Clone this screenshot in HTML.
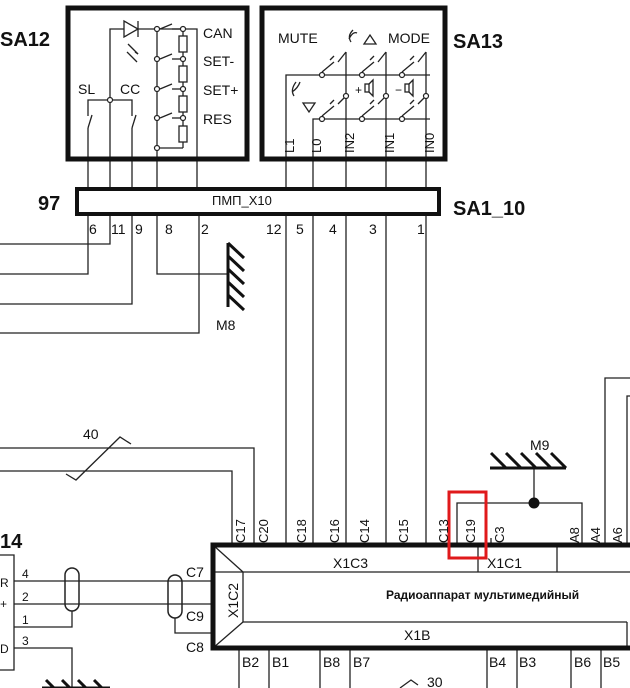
<!DOCTYPE html>
<html><head><meta charset="utf-8"><style>
html,body{margin:0;padding:0;background:#fff;}
svg{display:block;}
text{font-family:"Liberation Sans",sans-serif;fill:#111;}
</style></head><body>
<svg width="630" height="688" viewBox="0 0 630 688" xmlns="http://www.w3.org/2000/svg">
<g stroke="#222" stroke-width="1.3" fill="none">
<polyline points="110,160 110,29 197,29 197,190"/>
<polygon points="124,21 124,37 138,29" fill="#fff"/>
<line x1="138" y1="21" x2="138" y2="37"/>
<line x1="128" y1="44" x2="138" y2="54"/><line x1="135" y1="52" x2="138" y2="54"/>
<line x1="127" y1="52" x2="137" y2="62"/>
<line x1="157" y1="29" x2="157" y2="190"/>
<line x1="183" y1="29" x2="183" y2="148"/>
<polyline points="157,148 183,148"/>
<rect x="179" y="36" width="8" height="16" fill="#fff"/>
<rect x="179" y="66" width="8" height="16" fill="#fff"/>
<rect x="179" y="96" width="8" height="16" fill="#fff"/>
<rect x="179" y="126" width="8" height="16" fill="#fff"/>
<line x1="160" y1="29" x2="172" y2="24"/><line x1="172" y1="29" x2="183" y2="29"/>
<line x1="160" y1="59" x2="172" y2="54"/><line x1="172" y1="59" x2="183" y2="59"/>
<line x1="160" y1="89" x2="172" y2="84"/><line x1="172" y1="89" x2="183" y2="89"/>
<line x1="160" y1="118" x2="172" y2="113"/><line x1="172" y1="118" x2="183" y2="118"/>
<polyline points="88,190 88,128"/><polyline points="88,116 88,100 132,100 132,116"/>
<line x1="88" y1="128" x2="92" y2="115"/>
<line x1="132" y1="190" x2="132" y2="128"/><line x1="132" y1="128" x2="136" y2="115"/>
<line x1="110" y1="160" x2="110" y2="190"/>
<polyline points="286,190 286,75 430,75"/>
<polyline points="313,190 313,119 430,119"/>
<line x1="346" y1="52" x2="346" y2="190"/>
<line x1="386" y1="52" x2="386" y2="190"/>
<line x1="426" y1="52" x2="426" y2="190"/>
<g>
<line x1="322" y1="72" x2="334" y2="62"/><line x1="330" y1="60" x2="334" y2="56"/><line x1="338" y1="62" x2="346" y2="52"/>
<line x1="362" y1="72" x2="374" y2="62"/><line x1="370" y1="60" x2="374" y2="56"/><line x1="378" y1="62" x2="386" y2="52"/>
<line x1="402" y1="72" x2="414" y2="62"/><line x1="410" y1="60" x2="414" y2="56"/><line x1="418" y1="62" x2="426" y2="52"/>
<line x1="322" y1="116" x2="334" y2="106"/><line x1="330" y1="104" x2="334" y2="100"/><line x1="338" y1="104" x2="346" y2="96"/>
<line x1="362" y1="116" x2="374" y2="106"/><line x1="370" y1="104" x2="374" y2="100"/><line x1="378" y1="104" x2="386" y2="96"/>
<line x1="402" y1="116" x2="414" y2="106"/><line x1="410" y1="104" x2="414" y2="100"/><line x1="418" y1="104" x2="426" y2="96"/>
</g>
<rect x="365" y="84" width="4" height="8"/><polyline points="369,84 373,80 373,96 369,92"/>
<rect x="405" y="84" width="4" height="8"/><polyline points="409,84 413,80 413,96 409,92"/>
<polygon points="303,103 315,103 309,112"/>
<polygon points="364,44 376,44 370,35"/>
<path d="M353,30 q-6,6 -2,12 M349,39 q4,-8 8,-6" />
<path d="M296,82 q-6,8 -2,14 M292,92 q6,-4 8,-10"/>
<polyline points="110,215 110,244 0,244"/>
<polyline points="88,215 88,274 0,274"/>
<polyline points="132,215 132,304 0,304"/>
<polyline points="199,215 199,333 0,333"/>
<polyline points="157,215 157,274 228,274"/>
<line x1="286" y1="215" x2="286" y2="545"/>
<line x1="313" y1="215" x2="313" y2="545"/>
<line x1="346" y1="215" x2="346" y2="545"/>
<line x1="386" y1="215" x2="386" y2="545"/>
<line x1="426" y1="215" x2="426" y2="545"/>
<polyline points="0,448 254,448 254,545"/>
<polyline points="0,471 232,471 232,545"/>
<polyline points="66,474 76,480 120,437 131,444"/>
<polyline points="457,545 457,503 582,503 582,545"/>
<line x1="534" y1="468" x2="534" y2="503"/>
<polyline points="605,545 605,378 630,378"/>
<polyline points="627,545 627,396 630,396"/>
<line x1="491" y1="545" x2="491" y2="538"/>
<polyline points="0,555 14,555 14,670 0,670"/>
<polyline points="14,627 72,627 72,611"/>
<polyline points="175,618 175,633 213,633"/>
<polyline points="14,648 72,648 72,688"/>
<rect x="65" y="568" width="14" height="43" rx="7" fill="#fff" stroke-width="1.5"/>
<rect x="168" y="575" width="14" height="43" rx="7" fill="#fff" stroke-width="1.5"/>
<line x1="14" y1="581" x2="213" y2="581"/><line x1="14" y1="604" x2="213" y2="604"/>
<line x1="239" y1="648" x2="239" y2="688"/><line x1="269" y1="648" x2="269" y2="688"/>
<line x1="320" y1="648" x2="320" y2="688"/><line x1="350" y1="648" x2="350" y2="688"/>
<line x1="487" y1="648" x2="487" y2="688"/><line x1="517" y1="648" x2="517" y2="688"/>
<line x1="571" y1="648" x2="571" y2="688"/><line x1="601" y1="648" x2="601" y2="688"/>
<polyline points="400,688 411,680 418,685"/>
<line x1="213" y1="572" x2="630" y2="572"/>
<line x1="243" y1="572" x2="243" y2="622"/>
<line x1="243" y1="622" x2="627" y2="622"/>
<line x1="627" y1="622" x2="627" y2="647"/>
<line x1="478" y1="547" x2="478" y2="572"/>
<line x1="557" y1="547" x2="557" y2="572"/>
<line x1="213" y1="545" x2="243" y2="572"/>
<line x1="213" y1="648" x2="243" y2="622"/>
</g>
<g fill="#fff" stroke="#222" stroke-width="1.2">
<circle cx="110" cy="100" r="2.5"/>
<circle cx="157" cy="29" r="2.5"/><circle cx="183" cy="29" r="2.5"/>
<circle cx="157" cy="59" r="2.5"/><circle cx="183" cy="59" r="2.5"/>
<circle cx="157" cy="89" r="2.5"/><circle cx="183" cy="89" r="2.5"/>
<circle cx="157" cy="118" r="2.5"/><circle cx="183" cy="118" r="2.5"/>
<circle cx="157" cy="148" r="2.5"/>
<circle cx="322" cy="75" r="2.5"/><circle cx="362" cy="75" r="2.5"/><circle cx="402" cy="75" r="2.5"/>
<circle cx="322" cy="119" r="2.5"/><circle cx="362" cy="119" r="2.5"/><circle cx="402" cy="119" r="2.5"/>
<circle cx="346" cy="96" r="2.5"/><circle cx="386" cy="96" r="2.5"/><circle cx="426" cy="96" r="2.5"/>
</g>
<circle cx="534" cy="503" r="5.5" fill="#111"/>
<g stroke="#111" stroke-width="3" fill="none">
<line x1="228" y1="243" x2="228" y2="307"/>
<line x1="228" y1="243" x2="244" y2="258"/><line x1="228" y1="256" x2="244" y2="271"/>
<line x1="228" y1="269" x2="244" y2="284"/><line x1="228" y1="282" x2="244" y2="297"/>
<line x1="228" y1="295" x2="244" y2="310"/>
<line x1="490" y1="468" x2="566" y2="468"/>
<line x1="491" y1="453" x2="506" y2="468"/><line x1="506" y1="453" x2="521" y2="468"/>
<line x1="521" y1="453" x2="536" y2="468"/><line x1="536" y1="453" x2="551" y2="468"/>
<line x1="551" y1="453" x2="566" y2="468"/>
<line x1="42" y1="688" x2="110" y2="688"/>
<line x1="46" y1="680" x2="54" y2="688"/><line x1="62" y1="680" x2="70" y2="688"/><line x1="78" y1="680" x2="86" y2="688"/><line x1="94" y1="680" x2="102" y2="688"/>
<rect x="68" y="8" width="179" height="151" stroke-width="5"/>
<rect x="262" y="8" width="183" height="151" stroke-width="5"/>
<rect x="77" y="189" width="362" height="25" stroke-width="4" fill="#fff"/>
<polyline points="630,545 213,545 213,648 630,648" stroke-width="5"/>
</g>
<rect x="449" y="492" width="37" height="66" fill="none" stroke="#e0191b" stroke-width="3"/>
<g font-size="14">
<text x="203" y="38">CAN</text><text x="203" y="66">SET-</text><text x="203" y="95">SET+</text><text x="203" y="124">RES</text>
<text x="78" y="94">SL</text><text x="120" y="94">CC</text>
<text x="278" y="43">MUTE</text><text x="388" y="43">MODE</text>
<text x="355" y="94" font-size="12">+</text><text x="395" y="94" font-size="12">−</text>
<text x="89" y="234">6</text><text x="111" y="234">11</text><text x="135" y="234">9</text><text x="165" y="234">8</text><text x="201" y="234">2</text>
<text x="266" y="234">12</text><text x="296" y="234">5</text><text x="329" y="234">4</text><text x="369" y="234">3</text><text x="417" y="234">1</text>
<text x="216" y="330">M8</text><text x="530" y="450">M9</text><text x="83" y="439">40</text>
<text x="186" y="577">C7</text><text x="186" y="621">C9</text><text x="186" y="652">C8</text>
<text x="22" y="578" font-size="12">4</text><text x="22" y="601" font-size="12">2</text><text x="22" y="624" font-size="12">1</text><text x="22" y="645" font-size="12">3</text>
<text x="0" y="587" font-size="12">R</text><text x="0" y="608" font-size="12">+</text><text x="0" y="653" font-size="12">D</text>
<text x="242" y="667">B2</text><text x="272" y="667">B1</text><text x="323" y="667">B8</text><text x="353" y="667">B7</text>
<text x="489" y="667">B4</text><text x="519" y="667">B3</text><text x="574" y="667">B6</text><text x="603" y="667">B5</text>
<text x="427" y="687">30</text>
<text x="333" y="568">X1C3</text><text x="487" y="568">X1C1</text><text x="404" y="640">X1B</text>
<text x="212" y="205" font-size="13">ПМП_X10</text>
</g>
<g font-size="13">
<text transform="translate(294,153) rotate(-90)">L1</text>
<text transform="translate(321,153) rotate(-90)">L0</text>
<text transform="translate(354,153) rotate(-90)">IN2</text>
<text transform="translate(394,153) rotate(-90)">IN1</text>
<text transform="translate(434,153) rotate(-90)">IN0</text>
<text transform="translate(245,543) rotate(-90)">C17</text>
<text transform="translate(268,543) rotate(-90)">C20</text>
<text transform="translate(306,543) rotate(-90)">C18</text>
<text transform="translate(339,543) rotate(-90)">C16</text>
<text transform="translate(369,543) rotate(-90)">C14</text>
<text transform="translate(408,543) rotate(-90)">C15</text>
<text transform="translate(448,543) rotate(-90)">C13</text>
<text transform="translate(475,543) rotate(-90)">C19</text>
<text transform="translate(504,543) rotate(-90)">C3</text>
<text transform="translate(579,543) rotate(-90)">A8</text>
<text transform="translate(600,543) rotate(-90)">A4</text>
<text transform="translate(622,543) rotate(-90)">A6</text>
<text transform="translate(238,618) rotate(-90)" font-size="14">X1C2</text>
</g>
<g font-weight="bold">
<text x="0" y="46" font-size="20">SA12</text>
<text x="453" y="48" font-size="20">SA13</text>
<text x="38" y="210" font-size="20">97</text>
<text x="453" y="215" font-size="20">SA1_10</text>
<text x="0" y="548" font-size="20">14</text>
<text x="386" y="599" font-size="12">Радиоаппарат мультимедийный</text>
</g>
</svg>
</body></html>
